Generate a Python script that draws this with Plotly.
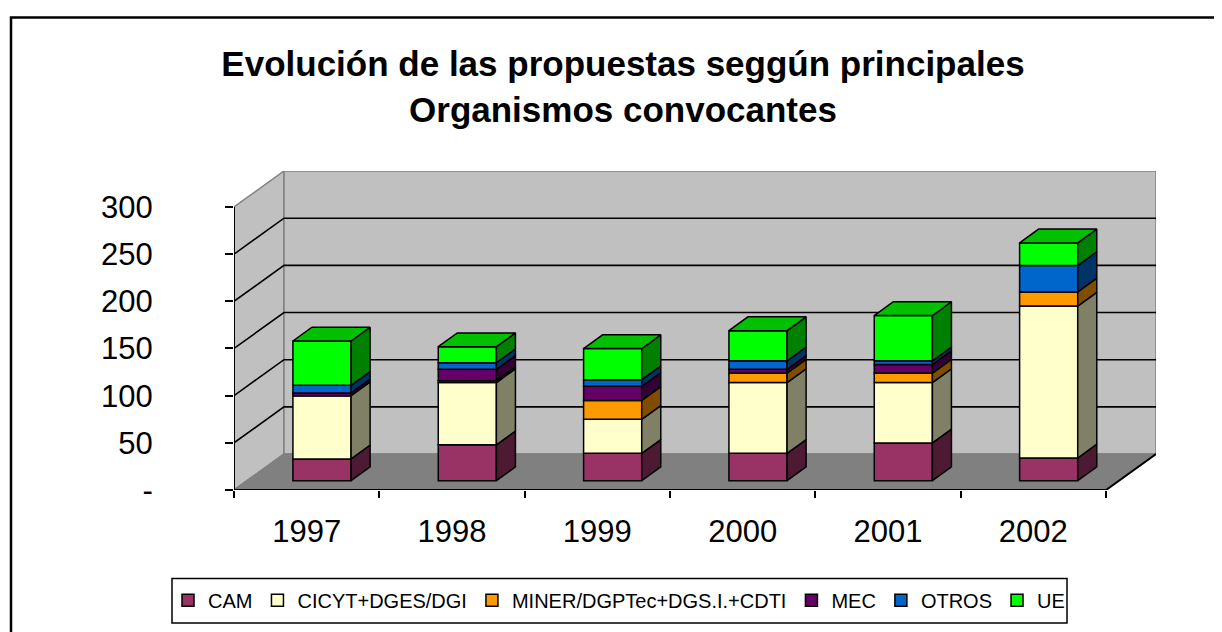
import plotly.graph_objects as go

# ---------------- data ----------------
years = ['1997', '1998', '1999', '2000', '2001', '2002']
series_names = ['CAM', 'CICYT+DGES/DGI', 'MINER/DGPTec+DGS.I.+CDTI', 'MEC', 'OTROS', 'UE']
cam = [23, 38, 29, 29, 40, 24]
cicyt = [67, 66, 36, 75, 64, 161]
miner = [0, 2, 20, 10, 10, 15]
mec = [3, 12, 15, 4, 9, 0]
otros = [8, 7, 7, 9, 4, 28]
ue = [47, 17, 33, 32, 48, 24]
y_tickvals = [0, 50, 100, 150, 200, 250, 300]
y_ticktext = ['-', '50', '100', '150', '200', '250', '300']

series_values = [cam, cicyt, miner, mec, otros, ue]

# ---------------- styles ----------------
front_colors = ['#993366', '#FFFFCC', '#FF9900', '#660066', '#0066CC', '#00FF00']
side_colors = ['#4D1A33', '#808066', '#804D00', '#330033', '#003366', '#008000']
top_colors = ['#73264D', '#BFBF99', '#BF7300', '#4D004D', '#004D99', '#00C000']
FONT = 'Arial, Liberation Sans, sans-serif'

OFF = 8                     # default page margin of the html body
W, H = 1222 - OFF, 632 - OFF
L, T, B = 234 - OFF, 171 - OFF, 137
plot_w = 922
plot_h = H - T - B
R = W - L - plot_w
n = len(years)
YMAX = 300
DX = 0.344   # full depth offset, category units
DY = 38.1    # full depth offset, value units
D0 = 0.26    # depth of bar front faces
BDX = 0.131  # bar depth in x
BDY = 14.6   # bar depth in y
BW = 0.40
XSHIFT = DX * D0 + 0.016
YSHIFT = DY * D0


def px_x(p):
    """screen x pixel -> paper x"""
    return (p - OFF - L) / plot_w


def px_y(p):
    """screen y pixel -> paper y"""
    return (H - B - (p - OFF)) / plot_h


fig = go.Figure()

# ---------------- walls & floor (shapes below traces) ----------------
shapes = []
wall_gray = '#C0C0C0'
edge_gray = '#808080'
shapes.append(dict(type='path', xref='x', yref='y', layer='below',
                   path=f'M0,0 L0,{YMAX} L{DX},{YMAX+DY} L{DX},{DY} Z',
                   fillcolor=wall_gray, line=dict(color=edge_gray, width=1.5)))
shapes.append(dict(type='path', xref='x', yref='y', layer='below',
                   path=f'M{DX},{DY} L{n+DX},{DY} L{n+DX},{YMAX+DY} L{DX},{YMAX+DY} Z',
                   fillcolor=wall_gray, line=dict(color=edge_gray, width=1.5)))
shapes.append(dict(type='path', xref='x', yref='y', layer='below',
                   path=f'M0,0 L{n},0 L{n+DX},{DY} L{DX},{DY} Z',
                   fillcolor='#808080', line=dict(color=edge_gray, width=1.5)))
for v in y_tickvals[1:-1]:
    shapes.append(dict(type='path', xref='x', yref='y', layer='below',
                       path=f'M0,{v} L{DX},{v+DY} L{n+DX},{v+DY}',
                       line=dict(color='black', width=1.6)))
# axis lines
shapes.append(dict(type='path', xref='x', yref='y', layer='below',
                   path=f'M0,0 L0,{YMAX}', line=dict(color='black', width=2)))
shapes.append(dict(type='path', xref='x', yref='y', layer='below',
                   path=f'M0,0 L{n},0 L{n+DX},{DY}', line=dict(color='black', width=2)))
# outer chart border
shapes.append(dict(type='rect', xref='paper', yref='paper', layer='above',
                   x0=px_x(11), x1=px_x(1260), y0=px_y(680), y1=px_y(15),
                   line=dict(color='black', width=2.5), fillcolor='rgba(0,0,0,0)'))
# legend frame
shapes.append(dict(type='rect', xref='paper', yref='paper', layer='above',
                   x0=px_x(172), x1=px_x(1067), y0=px_y(630), y1=px_y(585),
                   line=dict(color='black', width=1.5), fillcolor='rgba(0,0,0,0)'))

# ---------------- bars (front faces) ----------------
xc = [i + 0.5 + XSHIFT for i in range(n)]
cum = [0.0] * n
bottoms, tops = [], []
for k, (name, vals) in enumerate(zip(series_names, series_values)):
    base = [cum[i] + YSHIFT for i in range(n)]
    fig.add_trace(go.Bar(
        x=xc, y=vals, base=base, width=BW, name=name,
        marker=dict(color=front_colors[k], line=dict(color='black', width=1.5)),
        hoverinfo='name+y'))
    bottoms.append(base)
    tops.append([base[i] + vals[i] for i in range(n)])
    cum = [cum[i] + vals[i] for i in range(n)]

# ---------------- side faces ----------------
for k, vals in enumerate(series_values):
    xs, ys = [], []
    for i in range(n):
        if vals[i] <= 0:
            continue
        xr = xc[i] + BW / 2
        b = bottoms[k][i]
        t = tops[k][i]
        xs += [xr, xr + BDX, xr + BDX, xr, xr, None]
        ys += [b, b + BDY, t + BDY, t, b, None]
    fig.add_trace(go.Scatter(x=xs, y=ys, mode='lines', fill='toself',
                             fillcolor=side_colors[k],
                             line=dict(color='black', width=1.5),
                             showlegend=False, hoverinfo='skip'))

# ---------------- top faces ----------------
for i in range(n):
    k_top = max(k for k in range(len(series_values)) if series_values[k][i] > 0)
    t = tops[k_top][i]
    xl = xc[i] - BW / 2
    xr = xc[i] + BW / 2
    fig.add_trace(go.Scatter(
        x=[xl, xl + BDX, xr + BDX, xr, xl],
        y=[t, t + BDY, t + BDY, t, t],
        mode='lines', fill='toself', fillcolor=top_colors[k_top],
        line=dict(color='black', width=1.5), showlegend=False, hoverinfo='skip'))

fig.update_layout(
    width=W, height=H, autosize=False,
    margin=dict(l=L, r=R, t=T, b=B, pad=0),
    paper_bgcolor='white', plot_bgcolor='white',
    barmode='overlay',
    font=dict(family=FONT, color='black'),
    title=dict(text='<b>Evolución de las propuestas seggún principales<br>Organismos convocantes</b>',
               x=(623 - OFF) / W, xref='container', xanchor='center',
               y=1 - (76 - OFF) / H, yref='container', yanchor='middle',
               font=dict(family=FONT, size=35, color='black')),
    xaxis=dict(range=[0, n + DX], showgrid=False, zeroline=False, showline=False,
               tickmode='array', tickvals=[i + 0.5 for i in range(n)], ticktext=years,
               ticks='', tickfont=dict(size=31, family=FONT), ticklabelstandoff=20,
               minor=dict(ticks='outside', ticklen=7, tickwidth=1.5, tickcolor='black',
                          tickmode='array', tickvals=list(range(n + 1)), showgrid=False),
               fixedrange=True),
    yaxis=dict(range=[0, YMAX + DY], showgrid=False, zeroline=False, showline=False,
               tickmode='array', tickvals=y_tickvals, ticktext=y_ticktext,
               ticks='outside', ticklen=8, tickwidth=1.5, tickcolor='black',
               tickfont=dict(size=31, family=FONT), ticklabelstandoff=66,
               fixedrange=True),
    legend=dict(orientation='h', x=px_x(619), xanchor='center',
                y=px_y(607), yanchor='middle',
                borderwidth=0, bgcolor='rgba(0,0,0,0)',
                font=dict(family=FONT, size=20, color='black'),
                traceorder='normal'),
    shapes=shapes,
    showlegend=True,
)

fig.write_html('out.html')
